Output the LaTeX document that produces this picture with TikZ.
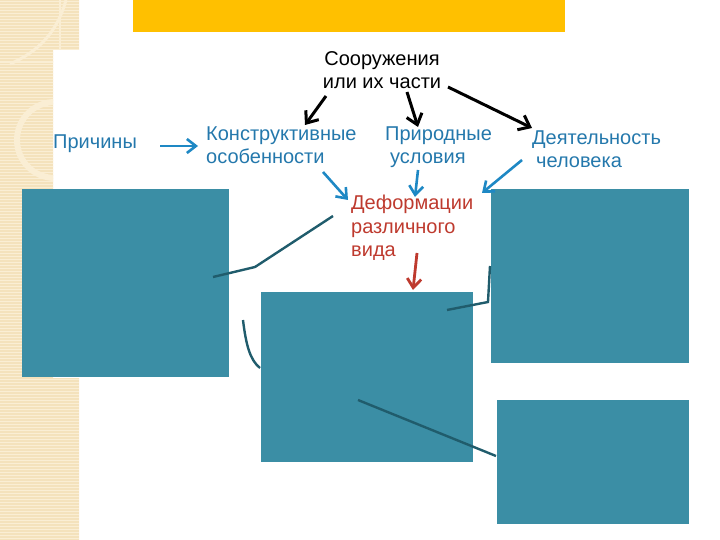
\documentclass[tikz,border=0pt]{standalone}
\usepackage{fontspec}
\setmainfont{Liberation Sans}
\usetikzlibrary{positioning,arrows.meta}

\begin{document}
\begin{tikzpicture}[x=1pt,y=-1pt]
      % цвета
      \definecolor{barcolor}{RGB}{255,192,0}      % жёлтая полоса
      \definecolor{beige}{RGB}{244,226,188}       % боковая полоса
      \definecolor{beigelight}{RGB}{250,238,212}  % светлые штрихи
      \definecolor{bluetext}{RGB}{36,120,172}     % синий текст
      \definecolor{arrowblue}{RGB}{30,136,196}    % синие стрелки
      \definecolor{redtext}{RGB}{190,58,46}       % красный текст
      \definecolor{panelcolor}{RGB}{59,142,165}   % бирюзовые блоки
      \definecolor{darkline}{RGB}{32,92,108}      % тёмные линии

      % стили
      \tikzstyle{causetext} = [text=bluetext, font=\fontsize{20}{23.5}\selectfont, align=left, inner sep=0pt]
      \tikzstyle{panel} = [rectangle, fill=panelcolor, draw=none, inner sep=0pt, outer sep=0pt, anchor=north west]
      \tikzstyle{blackarrow} = [-{Straight Barb[length=10pt,width=16pt]}, line width=3pt, black]
      \tikzstyle{bluearrow} = [-{Straight Barb[length=9pt,width=14pt]}, line width=2.6pt, arrowblue]
      \tikzstyle{redarrow} = [-{Straight Barb[length=9pt,width=14pt]}, line width=2.8pt, redtext]
      \tikzstyle{handline} = [line width=2.4pt, darkline]

      \useasboundingbox (0,0) rectangle (720,540);

      % боковая полоса
      \fill[beige] (0,0) -- (79,0) -- (79,50) -- (53,50) -- (53,378) -- (79,378) -- (79,540) -- (0,540) -- cycle;
      \begin{scope}
        \clip (0,0) -- (79,0) -- (79,50) -- (53,50) -- (53,378) -- (79,378) -- (79,540) -- (0,540) -- cycle;
        \foreach \y in {1,4,...,540}
          \draw[beigelight, line width=0.8pt] (0,\y) -- (79,\y);
        \draw[beigelight, line width=1.5pt] (0,62) -- (60,62) -- (60,0);
        \draw[beigelight, line width=3pt] (66,0) .. controls (55,40) and (30,55) .. (10,64);
        \draw[beigelight, line width=6pt] (55,102) arc[start angle=270, end angle=90, radius=38];
      \end{scope}

      % жёлтая полоса
      \fill[barcolor] (133,0) rectangle (565,32);

      % верхний уровень
      \node[font=\fontsize{20}{23.5}\selectfont, align=center, inner sep=0pt] (sooruzh) at (382,70) {Сооружения\\или их части};

      % причины
      \node[causetext, anchor=west] (prichiny) at (53,144) {Причины};
      \node[causetext, anchor=west] (konstr) at (206,145) {Конструктивные\\особенности};
      \node[causetext, anchor=west] (prirod) at (385,147) {Природные\\\hspace{5pt}условия};
      \node[causetext, anchor=west] (deyat) at (532,149) {Деятельность\\\hspace{4pt}человека};

      % деформации
      \node[causetext, text=redtext, anchor=west] (deform) at (351,228) {Деформации\\различного\\вида};

      % блоки
      \node[panel, minimum width=207pt, minimum height=188pt] (box1) at (22,189) {};
      \node[panel, minimum width=212pt, minimum height=170pt] (box2) at (261,292) {};
      \node[panel, minimum width=198pt, minimum height=174pt] (box3) at (491,189) {};
      \node[panel, minimum width=192pt, minimum height=124pt] (box4) at (497,400) {};

      % точки стрелок
      \coordinate (s1) at (326,96);
      \coordinate (s2) at (407,92);
      \coordinate (s3) at (448,87);
      \coordinate (k1) at (305,125);
      \coordinate (p1) at (418,127);
      \coordinate (d1) at (532,128);
      \coordinate (c0) at (160,146);
      \coordinate (c1) at (198,146);
      \coordinate (k2) at (323,172);
      \coordinate (p2) at (418,170);
      \coordinate (d2) at (522,160);
      \coordinate (f1) at (348,200);
      \coordinate (f2) at (415,197);
      \coordinate (f3) at (482,193);
      \coordinate (f4) at (417,253);
      \coordinate (f5) at (413,290);

      % стрелки
      \draw[blackarrow] (s1) -- (k1);
      \draw[blackarrow] (s2) -- (p1);
      \draw[blackarrow] (s3) -- (d1);
      \draw[bluearrow] (c0) -- (c1);
      \draw[bluearrow] (k2) -- (f1);
      \draw[bluearrow] (p2) -- (f2);
      \draw[bluearrow] (d2) -- (f3);
      \draw[redarrow] (f4) -- (f5);

      % линии от руки
      \coordinate (h1a) at (333,216);
      \coordinate (h1b) at (255,267);
      \coordinate (h1c) at (213,277);
      \coordinate (h2a) at (243,320);
      \coordinate (h2b) at (260,368);
      \coordinate (h3a) at (447,310);
      \coordinate (h3b) at (488,302);
      \coordinate (h3c) at (490,266);
      \coordinate (h4a) at (358,400);
      \coordinate (h4b) at (496,456);
      \draw[handline] (h1a) -- (h1b) -- (h1c);
      \draw[handline] (h2a) .. controls (246,345) and (250,360) .. (h2b);
      \draw[handline] (h3a) -- (h3b) -- (h3c);
      \draw[handline] (h4a) -- (h4b);
    \end{tikzpicture}
\end{document}
